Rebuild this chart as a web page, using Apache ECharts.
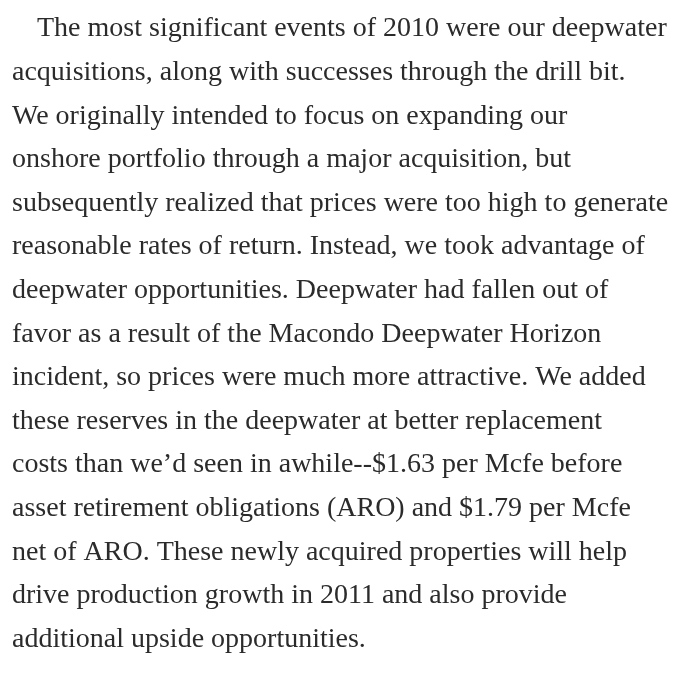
<!DOCTYPE html>
<html>
<head>
<meta charset="utf-8">
<script src="https://cdn.jsdelivr.net/npm/echarts@6/dist/echarts.min.js"></script>
<style>
  html, body { margin: 0; padding: 0; background: #fff; }
  #main { width: 681px; height: 673px; }
</style>
</head>
<body>
<div id="main"></div>
<script>
// paragraph lines, as set in the reference
var lines = [
  'The most significant events of 2010 were our deepwater',
  'acquisitions, along with successes through the drill bit.',
  'We originally intended to focus on expanding our',
  'onshore portfolio through a major acquisition, but',
  'subsequently realized that prices were too high to generate',
  'reasonable rates of return. Instead, we took advantage of',
  'deepwater opportunities. Deepwater had fallen out of',
  'favor as a result of the Macondo Deepwater Horizon',
  'incident, so prices were much more attractive. We added',
  'these reserves in the deepwater at better replacement',
  'costs than we\u2019d seen in awhile--$1.63 per Mcfe before',
  'asset retirement obligations (ARO) and $1.79 per Mcfe',
  'net of ARO. These newly acquired properties will help',
  'drive production growth in 2011 and also provide',
  'additional upside opportunities.'
];

var chart = echarts.init(document.getElementById('main'));

var left = 12, indent = 25, firstTop = 15, lineH = 43.6;

var elems = lines.map(function (t, i) {
  return {
    type: 'text',
    x: left + (i === 0 ? indent : 0),
    y: firstTop + i * lineH,
    style: {
      text: t,
      fill: '#2b2b2b',
      font: '28px "Liberation Serif", serif'
    }
  };
});

chart.setOption({
  backgroundColor: '#fff',
  graphic: elems
});
</script>
</body>
</html>
